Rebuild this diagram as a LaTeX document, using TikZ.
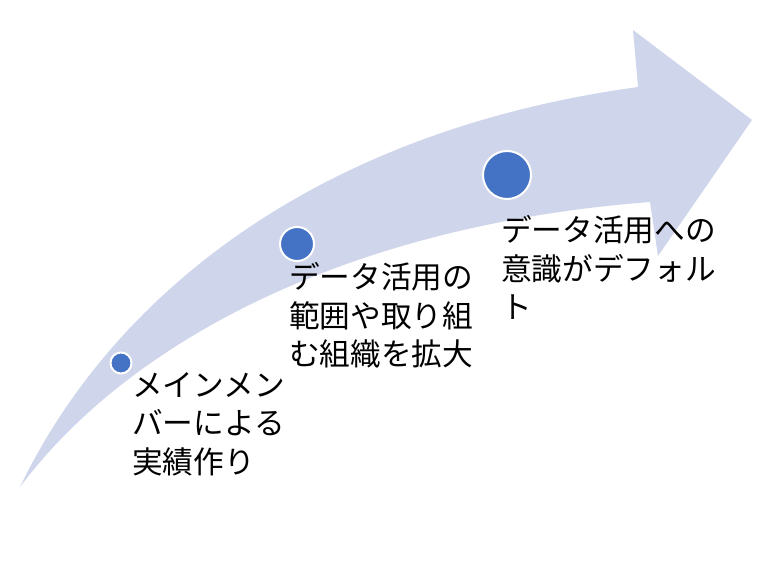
\documentclass[tikz,border=0pt]{standalone}
\usepackage{fontspec}
\newfontfamily\jpfont{Noto Sans CJK JP}
\definecolor{bandcol}{RGB}{207,213,234}
\definecolor{dotcol}{RGB}{68,114,196}
\begin{document}
\begin{tikzpicture}[x=0.75pt,y=-0.75pt,
  dotnode/.style={circle,fill=dotcol,draw=white,line width=1.5pt,inner sep=0pt},
  lbl/.style={anchor=north west,inner sep=0pt,align=left,font=\jpfont\fontsize{23}{29}\selectfont,text=black}]
\useasboundingbox (0,0) rectangle (778,566);
\fill[bandcol] (20,487) .. controls (110,300) and (310,132) .. (638,87) -- (633,30) -- (752,120) -- (658,256) -- (650,202) .. controls (350,225) and (130,340) .. (20,487) -- cycle;
\node[dotnode,minimum size=15.75pt] (d1) at (121,363) {};
\node[dotnode,minimum size=25.5pt] (d2) at (297,244) {};
\node[dotnode,minimum size=36pt] (d3) at (507,175) {};
\node[lbl] (t1) at (132,372) {メインメン\\バーによる\\実績作り};
\node[lbl] (t2) at (289,262) {データ活用の\\範囲や取り組\\む組織を拡大};
\node[lbl] (t3) at (501,215) {データ活用への\\意識がデフォル\\ト};
\end{tikzpicture}
\end{document}
